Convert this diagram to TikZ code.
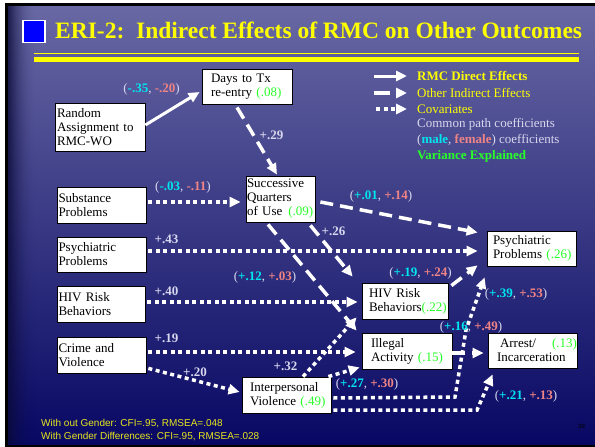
\documentclass[tikz,border=0pt]{standalone}
\usepackage{fontspec}
\setmainfont{Liberation Serif}
\newfontfamily\arialf{Liberation Sans}
\usetikzlibrary{arrows.meta}

\definecolor{bgtop}{RGB}{104,104,164}
\definecolor{bgbot}{RGB}{8,8,100}
\definecolor{edgedk}{RGB}{10,10,55}
\definecolor{ttlyel}{RGB}{255,255,0}
\definecolor{lav}{RGB}{215,215,238}
\definecolor{mcyan}{RGB}{0,230,240}
\definecolor{fpink}{RGB}{240,132,132}
\definecolor{vgreen}{RGB}{40,255,40}
\definecolor{ftyel}{RGB}{230,230,30}

\newcommand{\mfc}[2]{{\color{lav}(}\textbf{\color{mcyan}#1}{\color{lav}, }\textbf{\color{fpink}#2}{\color{lav})}}
\newcommand{\vex}[1]{{\color{vgreen}#1}}
\newcommand{\ind}[1]{\hspace*{#1pt}}

\tikzset{
  box/.style={draw=black, fill=white, line width=0.8pt, inner sep=0pt, align=left,
    font=\fontsize{13}{14}\selectfont, text=black},
  coef/.style={font=\fontsize{13}{14}\selectfont, text=lav, inner sep=0pt},
  direct/.style={draw=white, line width=3pt, -{Triangle[length=11pt,width=10pt]}},
  indirect/.style={draw=white, line width=3.5pt, dash pattern=on 13pt off 7pt, -{Triangle[length=11pt,width=10pt]}},
  covar/.style={draw=white, line width=3.5pt, dash pattern=on 4pt off 3.5pt, -{Triangle[length=11pt,width=10pt]}},
  legtxt/.style={anchor=west, inner sep=0pt, font=\fontsize{13}{14}\selectfont},
  foot/.style={anchor=west, inner sep=0pt, font=\arialf\fontsize{10}{12}\selectfont, text=ftyel},
}

\begin{document}
\begin{tikzpicture}[x=1pt,y=-1pt]
\useasboundingbox (0,0) rectangle (595,447);
% background
\fill[white] (0,0) rectangle (595,447);
\fill[black] (5,3) rectangle (595,447);
\shade[top color=bgtop, bottom color=bgbot] (8,6) rectangle (595,444);
\foreach \i in {0,...,27}{
  \pgfmathsetmacro{\op}{0.8*(1-\i/28)^2}
  \fill[edgedk, opacity=\op] (8+\i,6) rectangle (9+\i,444);
}
% title
\node[fill=blue, draw=white, line width=1.5pt, minimum size=22pt, inner sep=0pt] (bsq) at (34,31.5) {};
\node[anchor=base west, inner sep=0pt, font=\fontsize{23.5}{28}\selectfont\bfseries, text=ttlyel] (title) at (55,38.5) {ERI-2:\ \ Indirect Effects of RMC on Other Outcomes};
\fill[ttlyel] (34,52.5) rectangle (579,54.2);
\fill[ttlyel] (34,57) rectangle (579,62);

% boxes
\node[box, text width=90pt, minimum height=48pt] (rmc) at (100,127) {\ind{2}Random\\\ind{2}Assignment to\\\ind{2}RMC-WO};
\node[box, text width=90pt, minimum height=35pt] (days) at (247,86.5) {\ind{9}Days to Tx\\\ind{9}re-entry \vex{(.08)}};
\node[box, text width=89pt, minimum height=36pt] (subst) at (101.5,205) {\ind{1.5}Substance\\\ind{1.5}Problems};
\node[box, text width=89pt, minimum height=35pt] (psyL) at (101.5,254.5) {\ind{1.5}Psychiatric\\\ind{1.5}Problems};
\node[box, text width=88pt, minimum height=36pt] (hivL) at (101,304) {\ind{1.5}HIV Risk\\\ind{1.5}Behaviors};
\node[box, text width=89pt, minimum height=36pt] (crime) at (101.5,355) {\ind{1.5}Crime and\\\ind{1.5}Violence};
\node[box, text width=69pt, minimum height=46pt] (sq) at (280.5,199) {\ind{1}Successive\\\ind{1}Quarters\\\ind{1}\mbox{of Use\hspace{6pt}\vex{(.09)}}};
\node[box, text width=86pt, minimum height=36pt] (hivR) at (405,301) {\ind{7}HIV Risk\\\ind{7}\mbox{Behaviors\vex{(.22)}}};
\node[box, text width=90pt, minimum height=36pt] (illeg) at (407,351) {\ind{9}Illegal\\\ind{9}\mbox{Activity \vex{(.15)}}};
\node[box, text width=89pt, minimum height=36pt] (ipv) at (286.5,395) {\ind{8}Interpersonal\\\ind{8}\mbox{Violence \vex{(.49)}}};
\node[box, text width=89pt, minimum height=35pt] (psyR) at (531.5,248.5) {\ind{6}Psychiatric\\\ind{6}\mbox{Problems \vex{(.26)}}};
\node[box, text width=89pt, minimum height=35pt] (arrest) at (532.5,350.5) {\ind{12}Arrest/\hspace{\fill}\vex{(.13)}\ind{2}\\\ind{9}Incarceration};

% connectors
\draw[direct] ([shift={(0,-2)}]rmc.east) -- ([shift={(-2,5.5)}]days.west);
\draw[indirect] ([shift={(-10,3)}]days.south) -- ([shift={(-3.5,-1)}]sq.north);
\draw[covar] ([shift={(2,-3)}]subst.east) -- ([shift={(-5,3)}]sq.west);
\draw[indirect] ([shift={(5,3)}]sq.east) -- ([shift={(-9,-16)}]psyR.west);
\draw[indirect] ([shift={(-5,3)}]sq.south east) -- ([shift={(-9,-6)}]hivR.north west);
\draw[indirect] ([shift={(-12.5,2)}]sq.south) -- ([shift={(-5,-2)}]illeg.north west);
\draw[covar] ([shift={(2,-3.5)}]psyL.east) -- ([shift={(-9,2.5)}]psyR.west);
\draw[covar] ([shift={(2,-2)}]hivL.east) -- ([shift={(-4,1)}]hivR.west);
\draw[covar] ([shift={(2,-3)}]crime.east) -- ([shift={(-6,1)}]illeg.west);
\draw[covar] ([shift={(2,-5)}]crime.south east) -- ([shift={(-2,-3)}]ipv.west);
\draw[covar] ([shift={(16.5,0)}]ipv.north) -- ([shift={(-5,-2)}]hivR.south west);
\draw[covar] ([shift={(-3,0)}]ipv.north east) -- ([shift={(-2,-2)}]illeg.south west);
\draw[indirect] ([shift={(3,3)}]hivR.north east) -- ([shift={(-9,-1)}]psyR.south west);
\draw[covar] ([shift={(2,3)}]ipv.east) -- (455,397) -- (466,330) -- ([shift={(-2,11)}]psyR.south west);
\draw[indirect] ([shift={(0,2)}]illeg.east) -- ([shift={(-4,2.5)}]arrest.west);
\draw[covar] ([shift={(2,15)}]ipv.east) -- (477,410) -- ([shift={(5,6)}]arrest.south west);

% coefficient labels
\node[coef] (c1) at (151.5,89) {\mfc{-.35}{-.20}};
\node[coef] (c2) at (271.5,135) {\textbf{+.29}};
\node[coef] (c3) at (183,187) {\mfc{-.03}{-.11}};
\node[coef] (c4) at (166.5,239) {\textbf{+.43}};
\node[coef] (c5) at (166.5,291) {\textbf{+.40}};
\node[coef] (c6) at (166.5,338) {\textbf{+.19}};
\node[coef] (c7) at (195,372) {\textbf{+.20}};
\node[coef] (c8) at (381,196) {\mfc{+.01}{+.14}};
\node[coef] (c9) at (333.5,231) {\textbf{+.26}};
\node[coef] (c10) at (265,277) {\mfc{+.12}{+.03}};
\node[coef] (c11) at (420.5,273) {\mfc{+.19}{+.24}};
\node[coef] (c12) at (516,294) {\mfc{+.39}{+.53}};
\node[coef] (c13) at (471,327) {\mfc{+.16}{+.49}};
\node[coef] (c14) at (285.5,366) {\textbf{+.32}};
\node[coef] (c15) at (367,384) {\mfc{+.27}{+.30}};
\node[coef] (c16) at (526,396) {\mfc{+.21}{+.13}};

% legend
\coordinate (la1) at (374,76); \coordinate (lb1) at (407,76);
\coordinate (la2) at (374,93); \coordinate (lb2) at (407,93);
\coordinate (la3) at (376,109); \coordinate (lb3) at (407,109);
\draw[direct] (la1) -- (lb1);
\draw[indirect, dash pattern=on 16pt off 7pt] (la2) -- (lb2);
\draw[covar] (la3) -- (lb3);
\node[legtxt, text=ttlyel, font=\fontsize{13}{14}\selectfont\bfseries] (t1) at (417,76) {RMC Direct Effects};
\node[legtxt, text=ttlyel] (t2) at (417,93) {Other Indirect Effects};
\node[legtxt, text=ttlyel] (t3) at (417,109) {Covariates};
\node[legtxt, text=lav] (t4) at (417,124.5) {Common path coefficients};
\node[legtxt, text=lav] (t5) at (417,140) {(\textbf{\color{mcyan}male}, \textbf{\color{fpink}female}) coefficients};
\node[legtxt, text=vgreen, font=\fontsize{13}{14}\selectfont\bfseries] (t6) at (417,156) {Variance Explained};

% footer
\node[foot] (f1) at (41,424) {With out Gender: CFI=.95, RMSEA=.048};
\node[foot] (f2) at (41,437) {With Gender Differences: CFI=.95, RMSEA=.028};
\node[inner sep=0pt, font=\arialf\fontsize{6}{7}\selectfont, text=black] (pg) at (581.5,426) {39};
\end{tikzpicture}
\end{document}
